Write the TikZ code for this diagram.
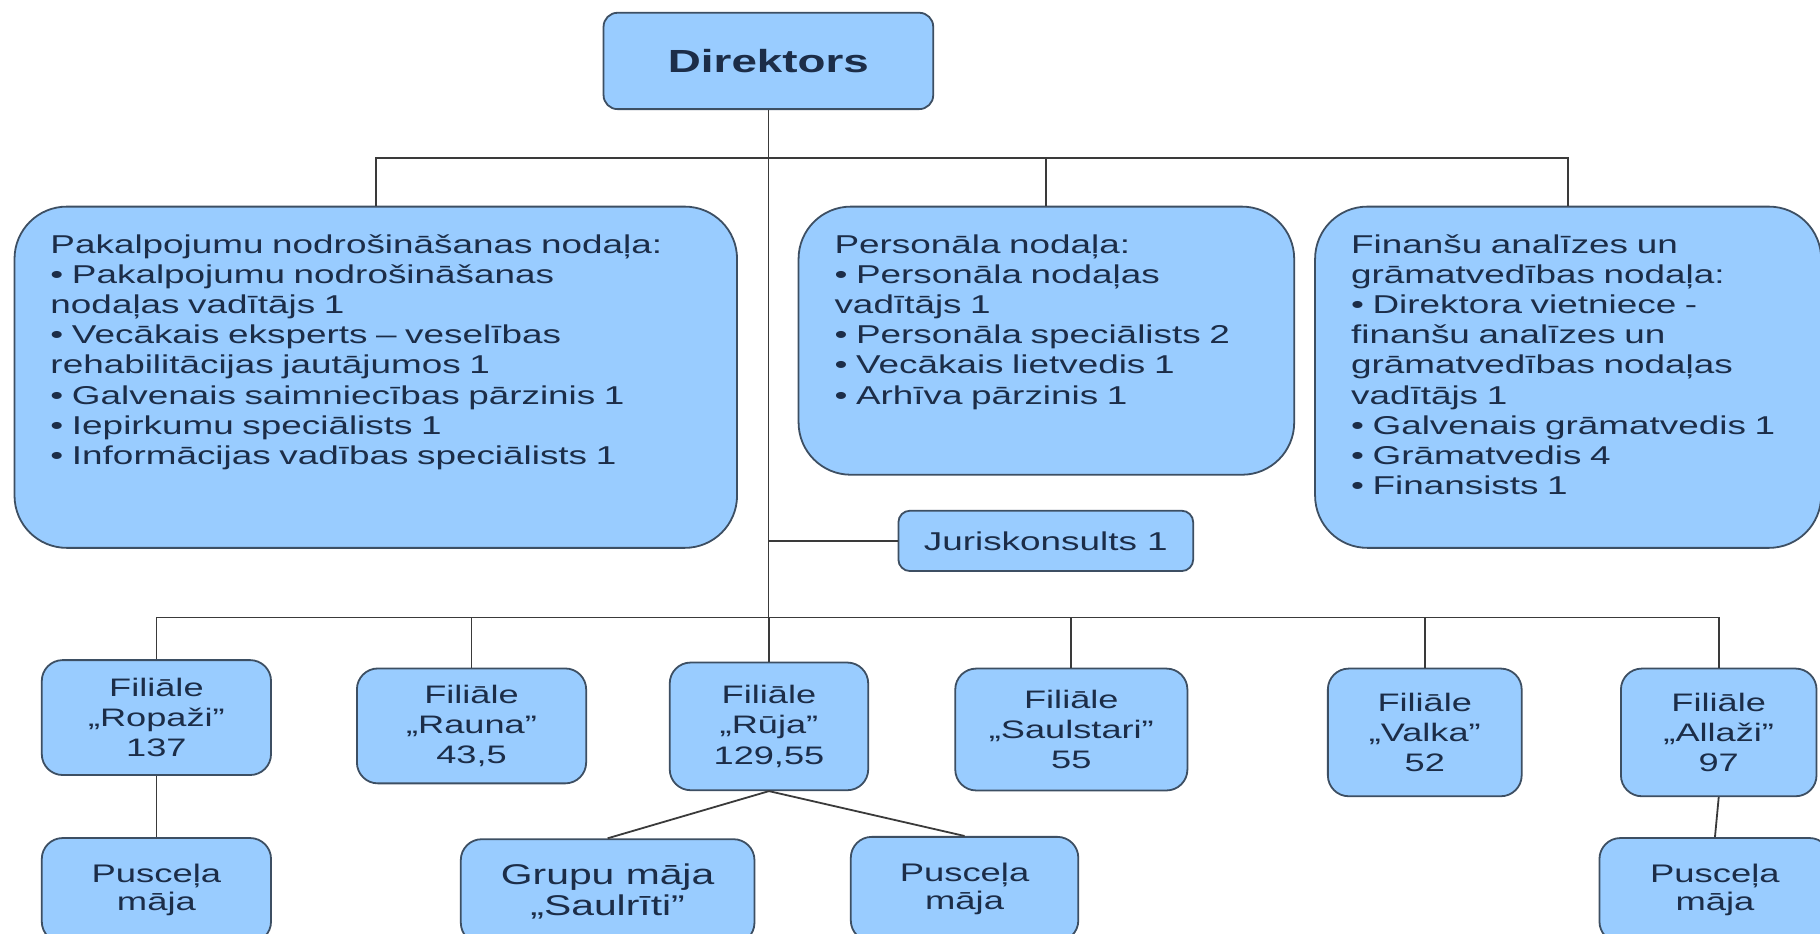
\documentclass[tikz,border=0pt]{standalone}
\usepackage{fontspec}
\setmainfont[FakeStretch=1.43]{Liberation Sans}
\setlength{\unitlength}{0.025cm}

\definecolor{boxfill}{HTML}{99CCFF}
\definecolor{boxline}{HTML}{3D4F63}
\definecolor{ink}{HTML}{1C2D48}
\definecolor{linkgray}{HTML}{3A3A3A}

\begin{document}
\begin{tikzpicture}[x=0.025cm, y=-0.025cm,
  box/.style={draw=boxline, fill=boxfill, line width=1.1pt, text=ink, inner sep=0pt},
  dept/.style={box, rounded corners=45\unitlength, align=left,
    inner xsep=31\unitlength, inner ysep=24\unitlength, text height=16\unitlength,
    font=\fontsize{15.8}{18.5}\selectfont},
  branch/.style={box, rounded corners=18\unitlength, align=center,
    font=\fontsize{15.5}{18.6}\selectfont},
  house/.style={branch, minimum height=90\unitlength,
    font=\fontsize{15.6}{17.3}\selectfont},
  link/.style={draw=linkgray, line width=1.1pt}]

% Picture frame
\clip (0,0) rectangle (1568,804);
\fill[white] (0,0) rectangle (1568,804);

% Director
\node[box, rounded corners=12\unitlength, minimum width=284\unitlength, minimum height=83\unitlength,
  font=\bfseries\fontsize{19.6}{23}\selectfont] (dir) at (662,52.5) {Direktors};

% Departments
\node[dept, text width=560.5\unitlength, text depth=230\unitlength] (pnn) at (323.75,325)
  {Pakalpojumu nodrošināšanas nodaļa:\\
   • Pakalpojumu nodrošināšanas\\
   nodaļas vadītājs 1\\
   • Vecākais eksperts – veselības\\
   rehabilitācijas jautājumos 1\\
   • Galvenais saimniecības pārzinis 1\\
   • Iepirkumu speciālists 1\\
   • Informācijas vadības speciālists 1};
\node[dept, text width=365\unitlength, text depth=167\unitlength] (pers) at (901.5,293.5)
  {Personāla nodaļa:\\
   • Personāla nodaļas\\
   vadītājs 1\\
   • Personāla speciālists 2\\
   • Vecākais lietvedis 1\\
   • Arhīva pārzinis 1};
\node[dept, text width=374\unitlength, text depth=230\unitlength] (fin) at (1351,325)
  {Finanšu analīzes un\\
   grāmatvedības nodaļa:\\
   • Direktora vietniece -\\
   finanšu analīzes un\\
   grāmatvedības nodaļas\\
   vadītājs 1\\
   • Galvenais grāmatvedis 1\\
   • Grāmatvedis 4\\
   • Finansists 1};

% Legal adviser
\node[box, rounded corners=10\unitlength, minimum width=254\unitlength, minimum height=52\unitlength,
  font=\fontsize{15.8}{18.5}\selectfont] (jur) at (901,466) {Juriskonsults 1};

% Branches
\node[branch, minimum width=197.5\unitlength, minimum height=99\unitlength] (ropazi) at (134.75,618.2) {Filiāle\\„Ropaži”\\137};
\node[branch, minimum width=197.5\unitlength, minimum height=99\unitlength] (rauna) at (406.25,625.4) {Filiāle\\„Rauna”\\43,5};
\node[branch, minimum width=171\unitlength, minimum height=110\unitlength] (ruja) at (662.5,625.8) {Filiāle\\„Rūja”\\129,55};
\node[branch, minimum width=200\unitlength, minimum height=105\unitlength] (saulstari) at (923,628.5) {Filiāle\\„Saulstari”\\55};
\node[branch, minimum width=167\unitlength, minimum height=110\unitlength] (valka) at (1227.5,631) {Filiāle\\„Valka”\\52};
\node[branch, minimum width=168.5\unitlength, minimum height=110\unitlength] (allazi) at (1480.75,631) {Filiāle\\„Allaži”\\97};

% Houses
\node[house, minimum width=197.5\unitlength] (pm1) at (134.75,767) {Pusceļa\\māja};
\node[house, minimum width=253\unitlength,
  font=\fontsize{17.5}{19.2}\selectfont] (grupu) at (523.5,768) {Grupu māja\\„Saulrīti”};
\node[house, minimum width=196\unitlength] (pm2) at (831,766) {Pusceļa\\māja};
\node[house, minimum width=199\unitlength] (pm3) at (1477.5,767) {Pusceļa\\māja};

% Bars
\coordinate (topbar) at (662,136);
\coordinate (lowbar) at (662,532);

% Connectors
\draw[link] (dir.south) -- (lowbar);
\draw[link] (pnn.north) |- (topbar) -| (fin.north);
\draw[link] (pers.north) -- (pers.north |- topbar);
\draw[link] (jur.west) -- (jur.west -| topbar);
\draw[link] (ropazi.north) |- (lowbar) -| (allazi.north);
\foreach \n in {rauna,ruja,saulstari,valka}
  \draw[link] (\n.north) -- (\n.north |- lowbar);
\draw[link] (ropazi.south) -- (pm1.north);
\draw[link] (ruja.south) -- (grupu.north);
\draw[link] (ruja.south) -- (pm2.north);
\draw[link] (allazi.south) -- (pm3.north);

\end{tikzpicture}
\end{document}
